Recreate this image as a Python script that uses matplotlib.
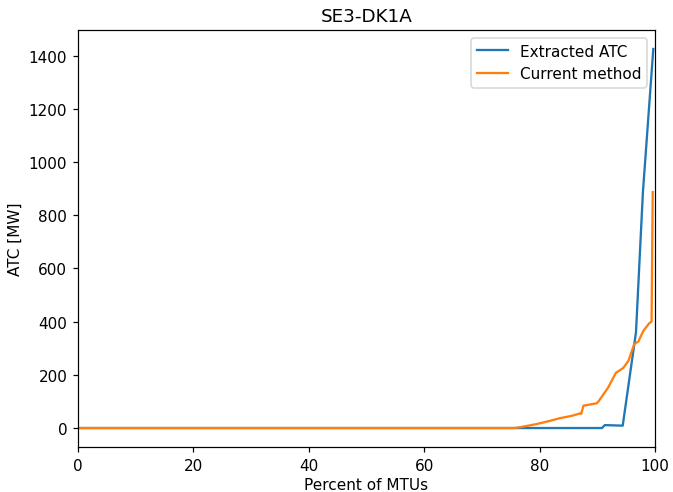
import matplotlib
matplotlib.use("Agg")
import matplotlib.pyplot as plt

# values (percent of MTUs vs ATC in MW)
extracted_x = [0, 90.8, 91.3, 94.4, 96.7, 97.9, 99.7]
extracted_atc = [0, 0, 11, 9, 360, 887, 1425]

current_x = [0, 75.5, 76.6, 79.5, 81.8, 83.5, 85.6, 87.0, 87.2, 87.6, 89.9, 90.3,
             91.9, 93.2, 94.5, 95.4, 96.4, 97.1, 98.0, 99.0, 99.4, 99.6]
current_atc = [0, 0, 3, 15, 27, 37, 46, 55, 53, 84, 93, 103,
               153, 207, 226, 253, 316, 325, 366, 394, 400, 887]

# 110 dpi so text and lines come out a bit larger, like the reference
fig, ax = plt.subplots(figsize=(673 / 110, 493 / 110), dpi=110)
fig.subplots_adjust(left=0.1159, right=0.9733, top=0.9371, bottom=0.0913)

ax.plot(extracted_x, extracted_atc, label="Extracted ATC")
ax.plot(current_x, current_atc, label="Current method")
ax.set_xlim(0, 100)
ax.set_title("SE3-DK1A")
ax.set_xlabel("Percent of MTUs", labelpad=2.5)
ax.set_ylabel("ATC [MW]")
ax.legend(loc="upper right")

fig.savefig("out.png", dpi=110)
